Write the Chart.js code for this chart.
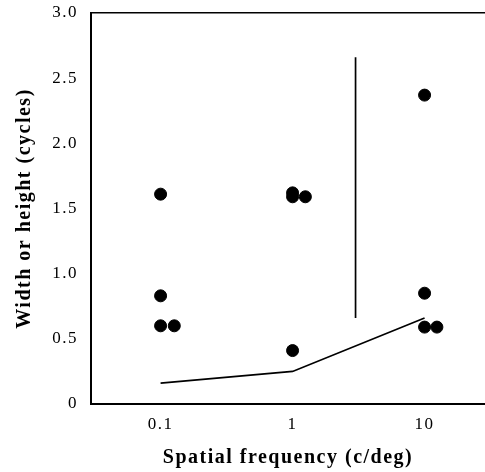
<!DOCTYPE html>
<html>
<head>
<meta charset="utf-8">
<script src="https://cdn.jsdelivr.net/npm/chart.js@4"></script>
<style>
  html, body { margin: 0; padding: 0; background: #fff; }
  #wrap { width: 485px; height: 472px; }
</style>
</head>
<body>
<div id="wrap"><canvas id="chart"></canvas></div>
<script>
// measured points
const freqs = [0.1, 0.1, 0.1, 0.127, 1, 1, 1.25, 1, 10, 10, 10, 12.4];
const widths = [1.61, 0.83, 0.6, 0.6, 1.62, 1.59, 1.59, 0.41, 2.37, 0.85, 0.59, 0.59];

// lower curve
const lineFreqs = [0.1, 1, 10];
const lineWidths = [0.16, 0.25, 0.66];

// vertical bar
const barFreq = 3;
const barRange = [0.66, 2.66];

const xTicks = [0.1, 1, 10];
const yTicks = [0, 0.5, 1.0, 1.5, 2.0, 2.5, 3.0];

const serif = "'Liberation Serif', 'Times New Roman', serif";

// the scanned figure has wide letter spacing
const spacing = {
  id: "spacing",
  beforeLayout: c => { c.ctx.letterSpacing = "1.5px"; },
  beforeDraw: c => { c.ctx.letterSpacing = "1.5px"; }
};

const ctx = document.getElementById("chart").getContext("2d");
new Chart(ctx, {
  type: "scatter",
  plugins: [spacing],
  data: {
    datasets: [
      {
        data: freqs.map((f, i) => ({ x: f, y: widths[i] })),
        backgroundColor: "#000",
        borderColor: "#000",
        pointRadius: 6,
        pointHoverRadius: 6
      },
      {
        type: "line",
        data: lineFreqs.map((f, i) => ({ x: f, y: lineWidths[i] })),
        borderColor: "#000",
        borderWidth: 1.7,
        pointRadius: 0,
        fill: false
      },
      {
        type: "line",
        data: barRange.map(v => ({ x: barFreq, y: v })),
        borderColor: "#000",
        borderWidth: 1.7,
        pointRadius: 0,
        fill: false
      }
    ]
  },
  options: {
    responsive: true,
    maintainAspectRatio: false,
    animation: false,
    layout: { autoPadding: false, padding: { top: 13, right: 0, left: 0, bottom: 0 } },
    plugins: { legend: { display: false }, tooltip: { enabled: false } },
    scales: {
      x: {
        type: "logarithmic",
        min: 0.0297,
        max: 28.7,
        afterBuildTicks: s => { s.ticks = xTicks.map(v => ({ value: v })); },
        afterFit: s => { s.height = 68; },
        ticks: {
          color: "#000",
          font: { family: serif, size: 17 },
          padding: 10,
          maxRotation: 0,
          callback: v => String(v)
        },
        grid: { drawOnChartArea: false, drawTicks: false },
        border: { color: "#000", width: 2 },
        title: {
          display: true,
          text: "Spatial frequency (c/deg)",
          color: "#000",
          font: { family: serif, size: 20, weight: "bold" },
          padding: { top: 4, bottom: 2 }
        }
      },
      xTop: {
        type: "logarithmic",
        position: "top",
        min: 0.0297,
        max: 28.7,
        afterFit: s => { s.height = 0; s.paddingLeft = 0; s.paddingRight = 0; },
        ticks: { display: false },
        grid: { display: false },
        border: { color: "#000", width: 1.5 }
      },
      y: {
        min: 0,
        max: 3,
        afterBuildTicks: s => { s.ticks = yTicks.map(v => ({ value: v })); },
        afterFit: s => { s.width = 91; s.paddingTop = 0; s.paddingBottom = 0; },
        ticks: {
          color: "#000",
          font: { family: serif, size: 17 },
          padding: 13,
          callback: v => (v === 0 ? "0" : v.toFixed(1))
        },
        grid: { drawOnChartArea: false, drawTicks: false },
        border: { color: "#000", width: 2 },
        title: {
          display: true,
          text: "Width or height (cycles)",
          color: "#000",
          font: { family: serif, size: 20, weight: "bold" },
          padding: { top: 13, bottom: 4 }
        }
      }
    }
  }
});
</script>
</body>
</html>
